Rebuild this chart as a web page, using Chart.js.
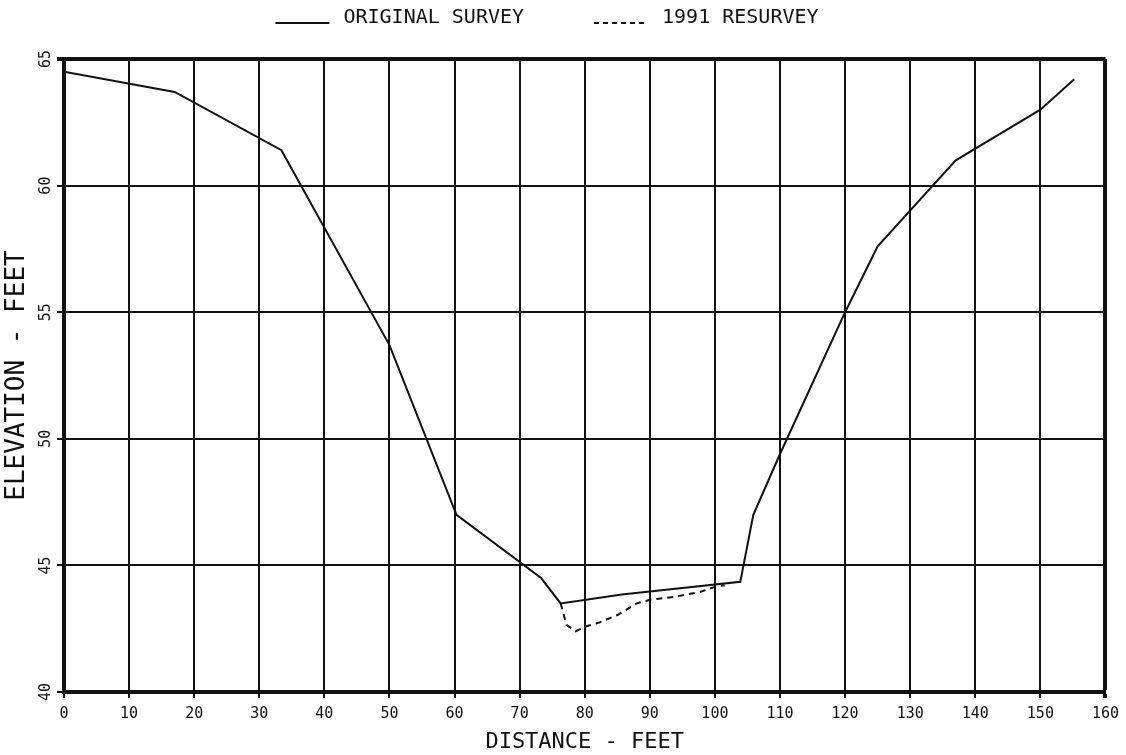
<!DOCTYPE html>
<html>
<head>
<meta charset="utf-8">
<script src="https://cdn.jsdelivr.net/npm/chart.js@4"></script>
<style>
  html, body { margin: 0; padding: 0; background: #fff; }
  #wrap { width: 1126px; height: 755px; }
</style>
</head>
<body>
<div id="wrap"><canvas id="chart" width="1126" height="755"></canvas></div>
<script>
// cross section values (distance ft, elevation ft)
const surveyDist = [0, 17, 33.4, 50, 60.3, 73.3, 76.3, 85.7, 103.9, 105.9, 110, 120, 125, 137, 150, 155.2];
const surveyElev = [64.5, 63.7, 61.4, 53.7, 47, 44.5, 43.5, 43.85, 44.35, 47, 49.4, 55, 57.6, 61, 63, 64.2];
const resurveyDist = [76.3, 77.2, 78.6, 80.3, 82.3, 85.1, 88, 90.2, 93.6, 97.7, 100, 101.5];
const resurveyElev = [43.5, 42.65, 42.4, 42.6, 42.75, 43.05, 43.5, 43.65, 43.75, 43.95, 44.15, 44.22];

const seriesLabels = ['ORIGINAL SURVEY', '1991 RESURVEY'];
const xTicks = [0, 10, 20, 30, 40, 50, 60, 70, 80, 90, 100, 110, 120, 130, 140, 150, 160];
const yTicks = [40, 45, 50, 55, 60, 65];

const FONT = '"DejaVu Sans Mono", "Liberation Mono", monospace';

function toPoints(xs, ys) {
  return xs.map((x, i) => ({ x: x, y: ys[i] }));
}

// legend drawn as "____ LABEL" like the plotter output
const plotterLegend = {
  id: 'plotterLegend',
  afterDraw(chart) {
    const ctx = chart.ctx;
    ctx.save();
    ctx.font = '20px ' + FONT;
    ctx.fillStyle = '#111';
    ctx.strokeStyle = '#111';
    ctx.textBaseline = 'alphabetic';
    const lineW = 54, gap = 14, spacing = 70;
    const items = chart.data.datasets.map(ds => ({
      text: ds.label,
      dash: ds.borderDash || [],
      w: lineW + gap + ctx.measureText(ds.label).width
    }));
    let total = items.reduce((s, it) => s + it.w, 0) + spacing * (items.length - 1);
    let x = (chart.width - total) / 2 - 16;
    const base = 23;
    items.forEach(it => {
      ctx.beginPath();
      ctx.lineWidth = 2;
      ctx.setLineDash(it.dash.length ? [5, 4] : []);
      ctx.moveTo(x, base);
      ctx.lineTo(x + lineW, base);
      ctx.stroke();
      ctx.setLineDash([]);
      ctx.fillText(it.text, x + lineW + gap, base);
      x += it.w + spacing;
    });
    ctx.restore();
  }
};

// y tick labels are rotated on the original plot
const rotatedYLabels = {
  id: 'rotatedYLabels',
  afterDraw(chart) {
    const ctx = chart.ctx;
    const yScale = chart.scales.y;
    ctx.save();
    ctx.font = '15px ' + FONT;
    ctx.fillStyle = '#111';
    ctx.textAlign = 'center';
    ctx.textBaseline = 'middle';
    yTicks.forEach(v => {
      const py = yScale.getPixelForValue(v);
      ctx.save();
      ctx.translate(yScale.right - 18, py);
      ctx.rotate(-Math.PI / 2);
      ctx.fillText(String(v), 0, 0);
      ctx.restore();
    });
    ctx.restore();
  }
};

const ctx = document.getElementById('chart').getContext('2d');
const chart = new Chart(ctx, {
  type: 'line',
  data: {
    datasets: [
      {
        label: seriesLabels[0],
        data: toPoints(surveyDist, surveyElev),
        borderColor: '#111',
        borderWidth: 2,
        pointRadius: 0,
        tension: 0,
        fill: false
      },
      {
        label: seriesLabels[1],
        data: toPoints(resurveyDist, resurveyElev),
        borderColor: '#111',
        borderWidth: 2,
        borderDash: [6, 5],
        pointRadius: 0,
        tension: 0,
        fill: false
      }
    ]
  },
  options: {
    responsive: false,
    animation: false,
    devicePixelRatio: 1,
    layout: { padding: { top: 59, right: 20, left: 0, bottom: 0 } },
    plugins: {
      legend: { display: false },
      tooltip: { enabled: false }
    },
    scales: {
      x: {
        type: 'linear',
        min: 0,
        max: 160,
        afterBuildTicks: scale => { scale.ticks = xTicks.map(v => ({ value: v })); },
        afterFit: scale => { scale.height = 63; },
        grid: {
          color: '#111',
          lineWidth: c => (c.tick && c.tick.value === 160 ? 4 : 2),
          tickLength: 6,
          drawTicks: true
        },
        border: { display: true, color: '#111', width: 4 },
        ticks: {
          color: '#111',
          font: { family: FONT, size: 15 },
          padding: 7,
          maxRotation: 0,
          autoSkip: false
        },
        title: {
          display: true,
          text: 'DISTANCE - FEET',
          color: '#111',
          font: { family: FONT, size: 22 },
          padding: { top: 0, bottom: 0 }
        }
      },
      y: {
        type: 'linear',
        min: 40,
        max: 65,
        afterBuildTicks: scale => { scale.ticks = yTicks.map(v => ({ value: v })); },
        afterFit: scale => { scale.width = 64; },
        grid: {
          color: '#111',
          lineWidth: c => (c.tick && c.tick.value === 65 ? 4 : 2),
          tickLength: 7,
          drawTicks: true
        },
        border: { display: true, color: '#111', width: 4 },
        ticks: { display: false },
        title: {
          display: true,
          text: 'ELEVATION - FEET',
          color: '#111',
          font: { family: FONT, size: 26 },
          padding: { top: 2, bottom: 0 }
        }
      }
    }
  },
  plugins: [plotterLegend, rotatedYLabels]
});
</script>
</body>
</html>
